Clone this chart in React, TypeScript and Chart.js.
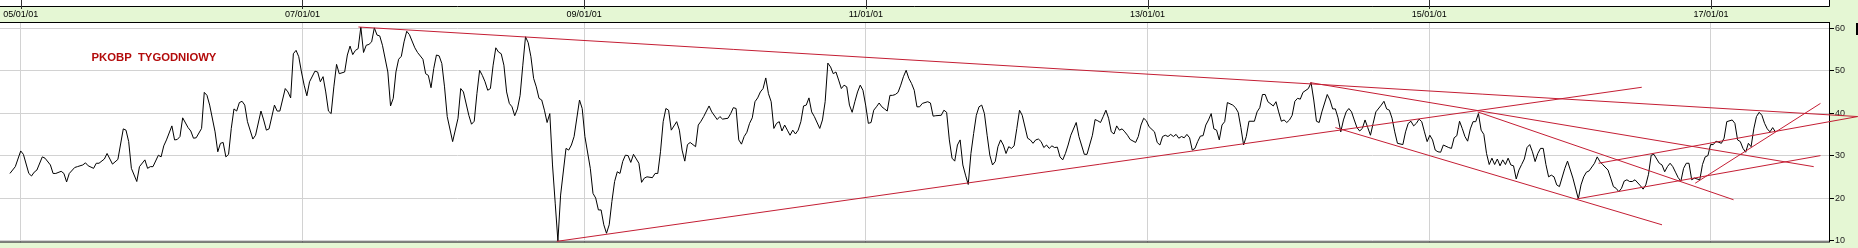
import React, { useEffect, useRef } from 'react';
import { Chart, registerables } from 'chart.js';

Chart.register(...registerables);

// ---- data: weekly closes, week index counted from 2005-01-01 ----
const WEEKS = [
  -4, -2, 0, 1, 3, 4, 5, 6, 8, 9, 11, 12, 13, 15, 16, 17, 18, 20, 21, 23, 24, 25, 27, 28, 29, 31, 32, 34, 36, 38, 39, 40,
  41, 43, 44, 46, 47, 48, 49, 51, 52, 53, 54, 56, 57, 58, 59, 60, 62, 63, 64, 65, 67, 68, 69, 70, 72, 73, 74, 75, 76, 77,
  78, 79, 80, 81, 82, 83, 84, 86, 87, 89, 90, 91, 92, 94, 95, 96, 98, 99, 100, 101, 102, 103, 104, 105, 106, 107, 109, 110,
  111, 112, 113, 114, 115, 116, 117, 118, 120, 121, 122, 123, 124, 125, 126, 127, 128, 129,
  130, 131, 132, 133, 134, 136, 137, 138, 139, 140, 141, 142, 143, 144, 146, 147, 149, 150, 151, 152, 153, 154, 155, 156,
  157, 158, 160, 162, 163, 164, 166, 167, 168, 169, 170, 171, 172, 173, 174, 175, 176, 177, 178, 179, 180, 181, 182, 183,
  184, 185, 186, 187, 188, 189, 190, 191, 192, 193, 194, 195, 196, 197, 198, 199, 200, 202, 203, 204, 205, 207, 208, 209,
  211, 212, 213, 214, 215, 216, 217, 218, 219, 220, 221, 222, 223, 224, 225, 226, 227, 229, 230, 231, 232, 234, 235, 236,
  237, 238, 239, 240, 241, 243, 244, 245, 246, 247, 248, 250, 251, 252, 253, 255, 256, 258, 259, 260, 262, 263, 264, 265,
  266, 267, 268, 269, 270, 271, 272, 273, 274, 275, 276, 277, 278, 279, 280, 281, 282, 283, 284, 285, 286, 287, 288, 289,
  290, 291, 292, 293, 294, 296, 297, 298, 299, 300, 301, 302, 303, 304, 305, 306, 307, 308, 309, 310, 311, 312, 313, 314,
  315, 316, 317, 318, 319, 320, 321, 322, 323, 324, 325, 326, 327, 328, 329, 330, 331, 332, 333, 334, 336, 337, 338, 339,
  341, 342, 343, 344, 345, 346, 347, 348, 349, 350, 351, 352, 353, 354, 355, 356, 357, 358, 359, 360, 361, 362, 363, 364,
  365, 366, 367, 368, 369, 370, 371, 373, 374, 375, 376, 377, 378, 379, 380, 381, 382, 383, 384, 385, 386, 387, 388, 389,
  391, 392, 394, 395, 397, 398, 399, 400,
  401, 402, 403, 404, 405, 406, 407, 408, 409, 410, 411, 413, 414, 415, 416, 417, 418, 420, 421, 422, 423, 424, 425, 426,
  427, 428, 429, 430, 431, 432, 433, 434, 435, 436, 437, 438, 439, 440, 441, 442, 443, 444, 445, 446, 447, 449, 450, 451,
  452, 453, 454, 455, 457, 458, 459, 460, 461, 462, 464, 465, 466, 467, 468, 469, 470, 471, 472, 473, 474, 475, 477, 478,
  479, 480, 481, 482, 484, 485, 486, 487, 488, 489, 490, 491, 492, 493, 494, 495, 496, 497, 498, 499, 500, 501, 502, 504,
  505, 506, 507, 508, 509, 510, 512, 513, 514, 515, 516, 517, 518, 519, 520, 521, 522, 523, 524, 525, 526, 527, 529, 530,
  531, 532, 533, 534, 535,
  536, 537, 538, 539, 540, 541, 542, 543, 544, 545, 546, 547, 548, 549, 550, 551, 552, 553, 554, 555, 556, 557, 558, 559,
  560, 561, 562, 563, 564, 565, 566, 567, 568, 569, 570, 572, 573, 575, 577, 578, 579, 580, 581, 583, 584, 585, 586, 588,
  589, 590, 591, 592, 593, 594, 595, 596, 597, 598, 600, 601, 602, 603, 604, 605, 607, 608, 609, 610, 611, 612, 613, 614,
  615, 616, 617, 618, 619, 620, 622, 623, 624, 625, 626, 627, 628, 630, 631, 632, 634, 635, 636, 637, 638, 639, 640, 641,
  642, 643, 644, 645, 646, 647, 648, 649, 650,
];

const CLOSE = [
  25.8, 27.4, 31.1, 30.3, 25.8, 25.2, 26.1, 26.6, 29.7, 29.4, 27.8, 25.8, 25.8, 26.3, 25.8, 23.8, 25.8, 27.2, 27.4, 27.8, 28.3, 27.6, 27.0, 28.2, 28.2, 29.2, 30.5, 28.0, 29.1, 36.3, 36.0, 33.3,
  27.0, 23.9, 27.4, 29.0, 27.0, 27.4, 27.4, 30.1, 29.7, 32.3, 33.7, 37.0, 33.7, 33.8, 34.5, 38.9, 36.6, 35.8, 34.1, 34.2, 36.4, 44.9, 44.2, 41.9, 35.6, 30.9, 32.9, 33.1, 29.7, 30.3,
  36.4, 41.0, 40.5, 42.5, 42.8, 41.9, 38.0, 33.9, 34.8, 40.5, 38.4, 36.0, 36.3, 41.9, 40.5, 40.5, 45.8, 45.0, 43.6, 54.0, 54.8, 53.3, 49.7, 46.6, 44.1, 47.4, 49.9, 49.7,
  47.4, 48.6, 45.0, 40.5, 39.9, 46.2, 51.5, 49.3, 49.7, 53.7, 55.8, 53.8, 54.8, 55.2, 60.3, 54.3, 56.0, 56.2,
  56.8, 60.1, 58.4, 58.2, 56.0, 49.7, 41.7, 43.5, 49.7, 52.7, 53.4, 56.8, 59.3, 58.5, 55.4, 54.3, 52.7, 49.3, 48.9, 46.0, 50.5, 53.7, 53.5, 51.7,
  46.2, 39.2, 33.3, 38.8, 45.8, 45.0, 39.5, 37.4, 38.1, 44.6, 50.1, 48.9, 47.4, 45.4, 45.8, 51.3, 55.4, 54.4, 54.0, 51.3, 45.0, 42.3, 41.5, 39.4,
  41.0, 44.2, 51.3, 58.0, 56.6, 53.3, 48.2, 46.2, 43.5, 43.1, 40.7, 37.8, 39.9, 27.8, 18.8, 9.9, 20.7, 31.7, 31.3, 32.5, 34.5, 43.1, 41.1, 34.5,
  27.0, 21.1, 20.0, 17.2, 17.2, 13.7, 11.7, 13.7, 19.2, 23.9, 26.2, 25.8, 28.6, 30.1, 30.0, 28.4, 30.3, 28.2, 23.7, 24.7, 25.0, 24.8, 25.8, 25.8,
  30.9, 38.0, 41.1, 40.7, 36.0, 38.0, 36.0, 31.3, 28.7, 32.6, 33.1, 32.1, 37.2, 38.1, 39.2, 41.7, 40.3, 38.5, 39.2, 38.6, 38.8, 39.9, 41.3, 41.1,
  33.7, 32.7, 34.5, 35.5, 37.6, 38.9, 42.7, 43.6, 45.0, 45.8, 48.3, 44.6, 42.7, 36.4, 37.6, 38.0, 35.8, 37.2, 36.0, 34.8, 36.0, 35.1, 36.0, 38.0,
  41.7, 41.9, 43.6, 40.3, 39.2, 36.4, 38.4, 42.7, 51.8, 50.9, 49.3, 49.7, 47.8, 45.8, 46.6, 46.2, 41.9, 40.2, 42.7, 45.0, 46.6, 45.4, 41.9, 37.6,
  37.8, 40.7, 41.5, 42.4, 41.5, 41.0, 40.5, 44.2, 44.2, 44.4, 44.9, 46.6, 48.6, 50.1, 48.2, 47.0, 45.4, 41.5, 41.5, 42.3, 42.7, 42.4, 39.3, 39.4,
  39.5, 40.7, 40.2, 33.7, 29.4, 28.7, 32.5, 33.7, 27.8, 25.4, 23.2, 30.5, 35.2, 39.5, 41.5, 41.9, 39.9, 34.8, 30.1, 27.8, 28.6, 32.1, 33.7, 32.5,
  30.5, 32.1, 31.7, 32.3, 36.4, 40.7, 39.5, 34.1, 33.7, 32.9, 33.7, 33.9, 33.3, 31.9, 32.5, 31.7, 32.3, 31.9, 32.0, 29.7, 29.0, 30.5, 32.5, 34.8,
  37.8, 34.5, 30.3, 30.3, 34.8, 38.5, 38.2, 37.8,
  39.2, 40.7, 38.8, 35.6, 35.1, 37.0, 36.0, 36.3, 35.6, 34.8, 33.8, 33.1, 34.5, 37.2, 38.8, 38.2, 36.8, 35.6, 33.1, 32.5, 34.5, 34.8, 34.5, 35.0,
  34.5, 35.0, 34.1, 34.5, 34.2, 35.0, 34.2, 31.3, 31.7, 33.3, 34.6, 34.7, 37.2, 38.4, 39.9, 36.3, 36.0, 33.7, 37.2, 38.0, 42.5, 41.9, 41.3, 40.2,
  36.6, 32.5, 34.5, 38.1, 38.1, 40.3, 41.3, 44.4, 44.4, 42.7, 41.7, 42.7, 40.3, 38.1, 38.4, 37.8, 38.4, 39.5, 42.8, 43.5, 43.3, 44.9, 45.8, 47.2,
  43.1, 38.1, 37.8, 40.3, 44.4, 43.1, 41.0, 41.0, 38.9, 35.6, 38.4, 40.3, 41.1, 40.3, 38.4, 36.6, 35.8, 36.4, 38.4, 36.6, 34.8, 37.6, 40.3, 41.9,
  42.8, 41.0, 40.7, 38.8, 35.6, 32.9, 32.6, 35.6, 37.6, 38.1, 37.0, 37.6, 38.6, 38.0, 35.6, 33.3, 34.8, 33.7, 31.3, 30.9, 30.8, 32.5, 31.9, 31.7,
  34.2, 34.7, 38.1, 36.4, 34.5,
  33.4, 36.3, 38.0, 38.0, 39.9, 36.0, 35.0, 30.5, 27.9, 29.4, 27.9, 29.2, 27.6, 29.0, 27.9, 29.4, 27.8, 27.6, 24.5, 26.6, 27.9, 29.2, 31.9, 32.6,
  30.9, 28.6, 30.5, 31.7, 31.7, 27.9, 25.0, 25.4, 25.0, 23.1, 22.7, 27.0, 28.7, 24.7, 19.8, 23.1, 25.0, 26.1, 26.4, 28.2, 29.7, 28.6, 27.9, 26.6,
  24.7, 22.7, 22.3, 21.5, 22.3, 24.0, 24.3, 23.9, 23.9, 24.3, 22.9, 22.1, 23.1, 25.6, 30.1, 30.3, 28.2, 27.8, 26.2, 27.4, 28.2, 27.4, 26.1, 24.8,
  24.0, 27.0, 28.2, 28.2, 24.3, 24.7, 24.3, 27.9, 29.7, 30.0, 32.6, 32.6, 33.4, 32.9, 34.1, 38.0, 38.4, 37.6, 33.7, 33.3, 31.7, 30.8, 32.9, 32.1,
  36.3, 39.2, 40.2, 39.5, 37.6, 36.3, 35.6, 36.6, 35.6,
];

// trend lines (week index, price) start -> end
const TREND_START_WEEK = [125.1, 477.7, 539.7, 198.6, 584.5, 620.3, 487.0, 576.5];
const TREND_START_PRICE = [60.3, 47.2, 40.3, 9.8, 28.2, 23.5, 36.6, 19.8];
const TREND_END_WEEK = [680.5, 664.2, 634.5, 600.5, 680.5, 666.7, 608.0, 666.7];
const TREND_END_PRICE = [39.2, 27.4, 19.6, 46.1, 39.2, 42.3, 13.7, 30.0];

const X_TICK_YEARS = [2005, 2007, 2009, 2011, 2013, 2015, 2017];
const Y_TICKS = [10, 20, 30, 40, 50, 60];
const TITLE = 'PKOBP  TYGODNIOWY';

const BASE_YEAR = 2005;
const WEEKS_PER_YEAR = 365.25 / 7;
const toYear = (w: number) => BASE_YEAR + w / WEEKS_PER_YEAR;

const X_MIN = 2004.853;
const X_MAX = 2017.845;
const Y_MIN = 9.53;
const Y_MAX = 61.48;

const GREEN = '#e5f7d4';
const GRID = '#d2d2d2';
const RED = '#c41e34';
const FONT = '"Liberation Sans", Arial, sans-serif';

const fmtYear = (v: number) => `${String(Math.round(v) % 100).padStart(2, '0')}/01/01`;

const framePlugin = {
  id: 'frame',
  beforeDraw(chart: any) {
    const { ctx, chartArea: a, width, height } = chart;
    ctx.save();
    ctx.fillStyle = GREEN;
    ctx.fillRect(0, 0, width, height);
    ctx.fillStyle = '#ffffff';
    ctx.fillRect(0, 0, a.right, 6);
    ctx.fillRect(a.left, a.top, a.right - a.left, a.bottom - a.top);
    ctx.strokeStyle = '#000';
    ctx.lineWidth = 1;
    ctx.beginPath();
    ctx.moveTo(0, 6.5);
    ctx.lineTo(a.right - 0.5, 6.5);
    ctx.lineTo(a.right - 0.5, 0);
    ctx.stroke();
    ctx.restore();
  },
  beforeDatasetsDraw(chart: any) {
    const { ctx, chartArea: a } = chart;
    const xs = chart.scales.x;
    ctx.save();
    ctx.strokeStyle = '#000';
    ctx.lineWidth = 1;
    ctx.strokeRect(a.left - 0.5, a.top + 0.5, a.right - a.left, a.bottom - a.top - 1);
    ctx.strokeStyle = '#333';
    for (const t of X_TICK_YEARS) {
      const px = Math.round(xs.getPixelForValue(t)) + 0.5;
      ctx.beginPath();
      ctx.moveTo(px, 0);
      ctx.lineTo(px, 9);
      ctx.stroke();
    }
    ctx.fillStyle = '#000';
    ctx.fillRect(1856, 23, 2, 12);
    ctx.font = `bold 11.3px ${FONT}`;
    ctx.fillStyle = '#b30b0b';
    ctx.textBaseline = 'alphabetic';
    ctx.textAlign = 'left';
    ctx.fillText(TITLE, 91.5, 61.3);
    ctx.restore();
  },
};

export default function App() {
  const ref = useRef<HTMLCanvasElement | null>(null);

  useEffect(() => {
    if (!ref.current) return;
    const series = WEEKS.map((w, i) => ({ x: toYear(w), y: CLOSE[i] }));
    const trends = TREND_START_WEEK.map((sw, i) => ({
      data: [
        { x: toYear(sw), y: TREND_START_PRICE[i] },
        { x: toYear(TREND_END_WEEK[i]), y: TREND_END_PRICE[i] },
      ],
      borderColor: RED,
      borderWidth: 1,
      pointRadius: 0,
      tension: 0,
      clip: false as any,
      order: 0,
    }));
    const chart = new Chart(ref.current, {
      type: 'line',
      data: {
        datasets: [
          ...trends,
          {
            data: series,
            borderColor: '#000',
            borderWidth: 1,
            pointRadius: 0,
            tension: 0,
            order: 1,
          },
        ],
      },
      options: {
        animation: false,
        responsive: false,
        maintainAspectRatio: false,
        events: [],
        layout: { padding: { left: 0, right: 0, top: 0, bottom: 5 } },
        plugins: {
          legend: { display: false },
          tooltip: { enabled: false },
          title: { display: false },
        },
        scales: {
          x: {
            type: 'linear',
            position: 'top',
            min: X_MIN,
            max: X_MAX,
            afterBuildTicks: (s: any) => {
              s.ticks = X_TICK_YEARS.map((v) => ({ value: v }));
            },
            afterFit: (s: any) => {
              s.height = 22;
            },
            ticks: {
              autoSkip: false,
              maxRotation: 0,
              minRotation: 0,
              padding: 2,
              color: '#000',
              font: { family: FONT, size: 9 },
              callback: (v: any) => fmtYear(Number(v)),
            },
            grid: { color: GRID, drawTicks: false, lineWidth: 1 },
            border: { display: false },
          },
          y: {
            type: 'linear',
            position: 'right',
            min: Y_MIN,
            max: Y_MAX,
            afterBuildTicks: (s: any) => {
              s.ticks = Y_TICKS.map((v) => ({ value: v }));
            },
            afterFit: (s: any) => {
              s.width = 28;
            },
            ticks: {
              padding: 1,
              color: '#222',
              font: { family: FONT, size: 9, lineHeight: 1 },
              callback: (v: any) => String(v),
            },
            grid: { color: GRID, drawTicks: true, tickLength: 4, tickColor: '#000', lineWidth: 1 },
            border: { display: false },
          },
        },
      } as any,
      plugins: [framePlugin],
    });
    return () => chart.destroy();
  }, []);

  return (
    <div style={{ position: 'fixed', left: 0, top: 0, width: 1858, height: 248 }}>
      <canvas ref={ref} width={1858} height={248} style={{ display: 'block' }} />
    </div>
  );
}
